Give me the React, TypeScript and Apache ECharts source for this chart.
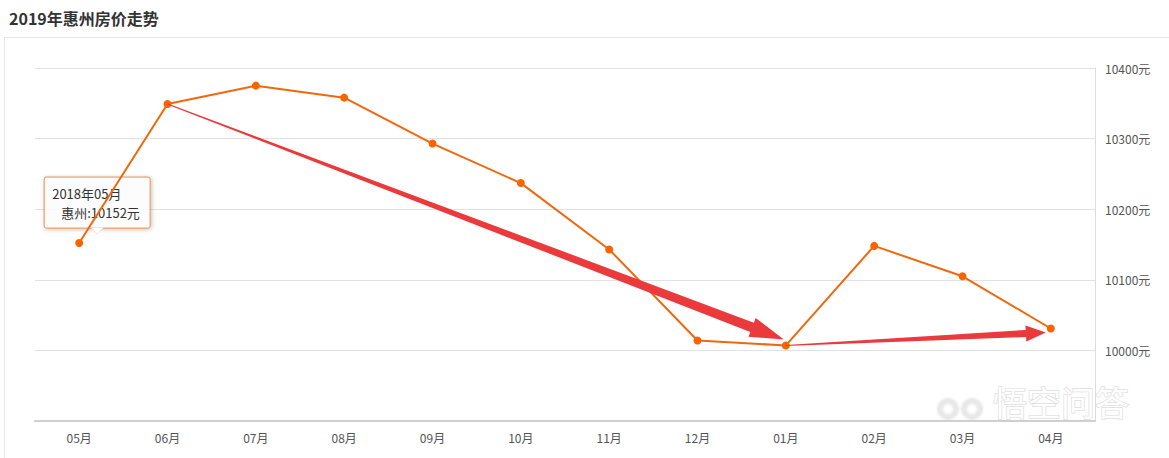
import React, { useEffect, useRef } from "react";
import * as echarts from "echarts";

const titleText = "2019年惠州房价走势";
const months = ["05月", "06月", "07月", "08月", "09月", "10月", "11月", "12月", "01月", "02月", "03月", "04月"];
const prices = [10152, 10349, 10375, 10358, 10293, 10237, 10143, 10014, 10007, 10148, 10105, 10031];
const seriesName = "惠州";
const tipTitle = "2018年05月";
const tipIndex = 0;
const yMin = 9900;
const yMax = 10400;
const yInterval = 100;
const watermark = "悟空问答";

const LINE = "#f2670c";
const RED = "#ea3a3c";
const FONT = "'Noto Sans CJK SC', 'Noto Sans', sans-serif";

function arrowPoly(S: number[], T: number[], w0: number, w1: number, headLen: number, headHalf: number) {
  const dx = T[0] - S[0];
  const dy = T[1] - S[1];
  const L = Math.sqrt(dx * dx + dy * dy);
  const ux = dx / L, uy = dy / L;
  const nx = -uy, ny = ux;
  const B = [T[0] - ux * headLen, T[1] - uy * headLen];
  return [
    [S[0] + nx * w0 / 2, S[1] + ny * w0 / 2],
    [B[0] + nx * w1 / 2, B[1] + ny * w1 / 2],
    [B[0] + nx * headHalf, B[1] + ny * headHalf],
    [T[0], T[1]],
    [B[0] - nx * headHalf, B[1] - ny * headHalf],
    [B[0] - nx * w1 / 2, B[1] - ny * w1 / 2],
    [S[0] - nx * w0 / 2, S[1] - ny * w0 / 2],
  ];
}

export default function App() {
  const ref = useRef<HTMLDivElement>(null);
  useEffect(() => {
    if (!ref.current) return;
    const chart = echarts.init(ref.current, undefined, { renderer: "svg" });
    chart.setOption({
      animation: false,
      backgroundColor: "#fff",
      title: {
        text: titleText,
        left: 4,
        top: 5,
        textStyle: { fontSize: 16, fontWeight: "bold", color: "#333", fontFamily: FONT },
      },
      grid: { left: 35, right: 74, top: 68, bottom: 37 },
      xAxis: {
        type: "category",
        data: months,
        boundaryGap: true,
        axisLine: { lineStyle: { color: "#cfcfcf", width: 2 } },
        axisTick: { alignWithLabel: true, length: 4, lineStyle: { color: "#ddd" } },
        axisLabel: { color: "#555", fontSize: 12, margin: 10, fontFamily: FONT },
        splitLine: { show: false },
      },
      yAxis: {
        type: "value",
        position: "right",
        min: yMin,
        max: yMax,
        interval: yInterval,
        axisLine: { show: true, lineStyle: { color: "#dcdcdc", width: 1 } },
        axisTick: { show: false },
        axisLabel: {
          color: "#555",
          fontSize: 12,
          margin: 10,
          fontFamily: FONT,
          formatter: (v: number) => (v === yMin ? "" : v + "元"),
        },
        splitLine: { lineStyle: { color: "#e2e2e2" } },
      },
      series: [
        {
          name: seriesName,
          type: "line",
          data: prices,
          symbol: "circle",
          symbolSize: 8,
          lineStyle: { color: LINE, width: 2 },
          itemStyle: { color: "#f96400" },
          z: 3,
        },
      ],
    });

    const px = (i: number) => chart.convertToPixel({ xAxisIndex: 0, yAxisIndex: 0 }, [i, prices[i]]) as number[];
    const p06 = px(1);
    const p01 = px(8);
    const p04 = px(11);
    const pTip = px(tipIndex);

    const a1 = arrowPoly(p06, [p01[0] - 2, p01[1] - 6], 1, 10, 34, 10);
    const a2 = arrowPoly(p01, [p04[0] - 5, p04[1] + 4], 1, 7, 20, 8);

    const bx = pTip[0] - 35;
    const by = pTip[1] - 66;
    const bw = 106;
    const bh = 51;
    const notchX = bx + 53;

    chart.setOption({
      graphic: [
        {
          type: "rect",
          shape: { x: 4.5, y: 37.5, width: 1200, height: 500 },
          style: { fill: "none", stroke: "#e6e6e6", lineWidth: 1 },
          z: 0,
          silent: true,
        },
        { type: "polygon", shape: { points: a1 }, style: { fill: RED }, z: 10 },
        { type: "polygon", shape: { points: a2 }, style: { fill: RED }, z: 10 },
        {
          type: "group",
          z: 20,
          children: [
            {
              type: "rect",
              shape: { x: bx, y: by, width: bw, height: bh, r: 2 },
              style: {
                fill: "rgba(255,255,255,0.88)",
                stroke: "#ee8c44",
                lineWidth: 1,
                shadowColor: "rgba(0,0,0,0.25)",
                shadowBlur: 4,
                shadowOffsetX: 1,
                shadowOffsetY: 1,
              },
            },
            {
              type: "polygon",
              shape: { points: [[notchX - 6, by + bh - 0.5], [notchX + 6, by + bh - 0.5], [notchX, by + bh + 6]] },
              style: { fill: "#fff", stroke: "#e6e6e6", lineWidth: 1 },
            },
            {
              type: "text",
              x: bx + 8,
              y: by + 16,
              style: { text: tipTitle, fill: "#333", fontSize: 13, fontFamily: FONT, verticalAlign: "middle" },
            },
            {
              type: "text",
              x: bx + 17,
              y: by + 35,
              style: {
                text: seriesName + ":" + prices[tipIndex] + "元",
                fill: "#333",
                fontSize: 13,
                fontFamily: FONT,
                verticalAlign: "middle",
              },
            },
          ],
        },
        {
          type: "group",
          z: 30,
          silent: true,
          children: [
            {
              type: "circle",
              shape: { cx: 948, cy: 409, r: 8 },
              style: { fill: "none", stroke: "#e8e8e8", lineWidth: 4, shadowColor: "rgba(0,0,0,0.2)", shadowBlur: 3 },
            },
            {
              type: "circle",
              shape: { cx: 972, cy: 409, r: 8 },
              style: { fill: "none", stroke: "#e8e8e8", lineWidth: 4, shadowColor: "rgba(0,0,0,0.2)", shadowBlur: 3 },
            },
            {
              type: "text",
              x: 993,
              y: 401,
              style: {
                text: watermark,
                fill: "#ffffff",
                stroke: "#dedede",
                lineWidth: 1.5,
                fontSize: 34,
                fontFamily: FONT,
                verticalAlign: "middle",
                shadowColor: "rgba(0,0,0,0.2)",
                shadowBlur: 3,
              },
            },
          ],
        },
      ],
    });

    return () => chart.dispose();
  }, []);
  return (
    <div
      ref={ref}
      style={{ position: "absolute", left: 0, top: 0, width: 1169, height: 458 }}
    />
  );
}
